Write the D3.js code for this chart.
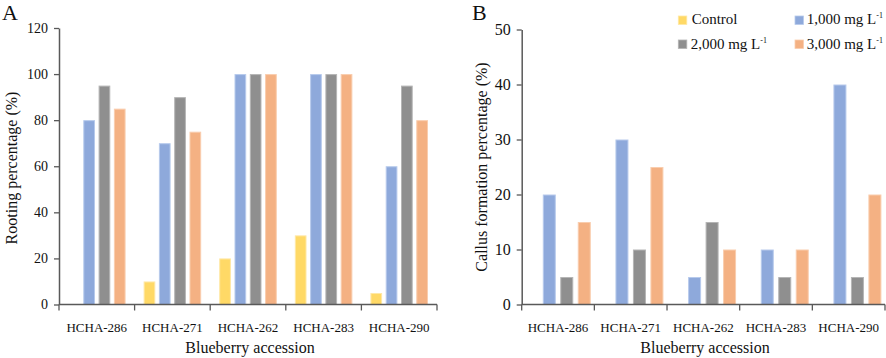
<!DOCTYPE html>
<html><head><meta charset="utf-8">
<script src="https://cdn.jsdelivr.net/npm/d3@7"></script>
<style>
html,body{margin:0;padding:0;background:#fff;}
svg{display:block;}
svg text{font-family:"Liberation Serif","Times New Roman",Tinos,"DejaVu Serif",serif;}
</style></head>
<body><svg id="c" width="886" height="358"></svg>
<script>
const categories = ["HCHA-286","HCHA-271","HCHA-262","HCHA-283","HCHA-290"];
const seriesNames = ["Control","1,000 mg L","2,000 mg L","3,000 mg L"];
const seriesColors = ["#FFD966","#8EA9DB","#8F8F8F","#F4B183"];
const seriesEdges = ["#FFE8A6","#B7CAEC","#B5B5B5","#F9CDAE"];
// Panel A: rooting percentage (%)
const rootControl = [0,10,20,30,5];
const root1000 = [80,70,100,100,60];
const root2000 = [95,90,100,100,95];
const root3000 = [85,75,100,100,80];
const rootTicks = [0,20,40,60,80,100,120];
// Panel B: callus formation percentage (%)
const callusControl = [0,0,0,0,0];
const callus1000 = [20,30,5,10,40];
const callus2000 = [5,10,15,5,5];
const callus3000 = [15,25,10,10,20];
const callusTicks = [0,10,20,30,40,50];

const FONT = "'Liberation Serif','Times New Roman',Tinos,'DejaVu Serif',serif";
const svg = d3.select("#c");
const axisColor = "#595959";

function panel(opt){
  const g = svg.append("g");
  const x = d3.scaleBand().domain(categories).range([opt.x0, opt.x1]).padding(0);
  const xi = d3.scaleBand().domain(d3.range(seriesNames.length)).range([0, x.bandwidth()])
     .paddingInner(opt.pin).paddingOuter(opt.pout);
  const y = d3.scaleLinear().domain([0, d3.max(opt.ticks)]).range([opt.y0, opt.y1]);

  // bars
  opt.series.forEach((vals, si) => {
    const data = vals.map((v, i) => ({v, c: categories[i]})).filter(d => d.v > 0);
    g.append("g").selectAll("rect").data(data).join("rect")
      .attr("x", d => x(d.c) + xi(si) + 0.5)
      .attr("width", xi.bandwidth() - 1)
      .attr("y", d => y(d.v) + 0.5)
      .attr("height", d => y(0) - y(d.v) - 0.5)
      .attr("fill", seriesColors[si])
      .attr("stroke", seriesEdges[si])
      .attr("stroke-width", 1);
  });

  // y axis
  const ya = g.append("g").attr("transform", `translate(${opt.x0},0)`)
    .call(d3.axisLeft(y).tickValues(opt.ticks).tickSize(5).tickSizeOuter(0).tickPadding(6));
  ya.attr("font-family", FONT);
  ya.select(".domain").attr("stroke", axisColor).attr("stroke-width", 1.5);
  ya.selectAll(".tick line").attr("stroke", axisColor).attr("stroke-width", 1.3);
  ya.selectAll(".tick text").attr("fill", "#111").attr("font-size", opt.ytfs)
    .attr("font-family", FONT);

  // x axis line with boundary ticks
  const xg = g.append("g");
  xg.append("line").attr("x1", opt.x0).attr("x2", opt.x1).attr("y1", y(0)).attr("y2", y(0))
    .attr("stroke", axisColor).attr("stroke-width", 1.5);
  const bounds = categories.map(c => x(c)).concat([x(categories[categories.length-1]) + x.bandwidth()]);
  xg.selectAll("line.b").data(bounds).join("line").attr("class","b")
    .attr("x1", d => d).attr("x2", d => d).attr("y1", y(0)).attr("y2", y(0) + 6)
    .attr("stroke", axisColor).attr("stroke-width", 1.3);
  xg.selectAll("text").data(categories).join("text")
    .attr("x", d => x(d) + x.bandwidth()/2).attr("y", 331.5)
    .attr("text-anchor", "middle").attr("font-size", 13).attr("font-family", FONT)
    .attr("fill", "#111").text(d => d);

  // axis titles
  g.append("text").attr("x", opt.xtx).attr("y", 352.5).attr("text-anchor","middle")
    .attr("font-size", 16).attr("font-family", FONT).attr("fill","#111").text("Blueberry accession");
  g.append("text").attr("transform", `translate(${opt.ytx},${opt.yty}) rotate(-90)`)
    .attr("text-anchor","middle").attr("font-size",16).attr("font-family", FONT)
    .attr("fill","#111").text(opt.ytitle);

  // panel letter
  g.append("text").attr("x", opt.lx).attr("y", 20).attr("font-size", 22).attr("font-family", FONT)
    .attr("fill","#111").text(opt.letter);
}

panel({x0:59, x1:437, y0:304.5, y1:28, ticks:rootTicks, pin:0.235, pout:0.59, ytfs:14,
  series:[rootControl, root1000, root2000, root3000],
  xtx:250, ytx:17, yty:168, ytitle:"Rooting percentage (%)", lx:2, letter:"A"});
panel({x0:521.7, x1:885, y0:304.5, y1:29.5, ticks:callusTicks, pin:0.257, pout:0.206, ytfs:16,
  series:[callusControl, callus1000, callus2000, callus3000],
  xtx:705, ytx:487, yty:167, ytitle:"Callus formation percentage (%)", lx:472, letter:"B"});

// legend
const legPos = [[678.3,16,691.7,24],[795,16,806.7,24],[678.3,40,690.7,48.5],[795,40,806.7,48.5]];
const leg = svg.append("g");
seriesNames.forEach((n, i) => {
  const p = legPos[i];
  leg.append("rect").attr("x", p[0]).attr("y", p[1]).attr("width", 8.5).attr("height", 8.5)
    .attr("fill", seriesColors[i]).attr("stroke", seriesEdges[i]).attr("stroke-width", 0.8);
  const t = leg.append("text").attr("x", p[2]).attr("y", p[3]).attr("font-size", 15)
    .attr("font-family", FONT).attr("fill","#111");
  t.append("tspan").text(n);
  if (i > 0) t.append("tspan").attr("dy", -6).attr("font-size", 8).text("-1");
});
</script></body></html>
